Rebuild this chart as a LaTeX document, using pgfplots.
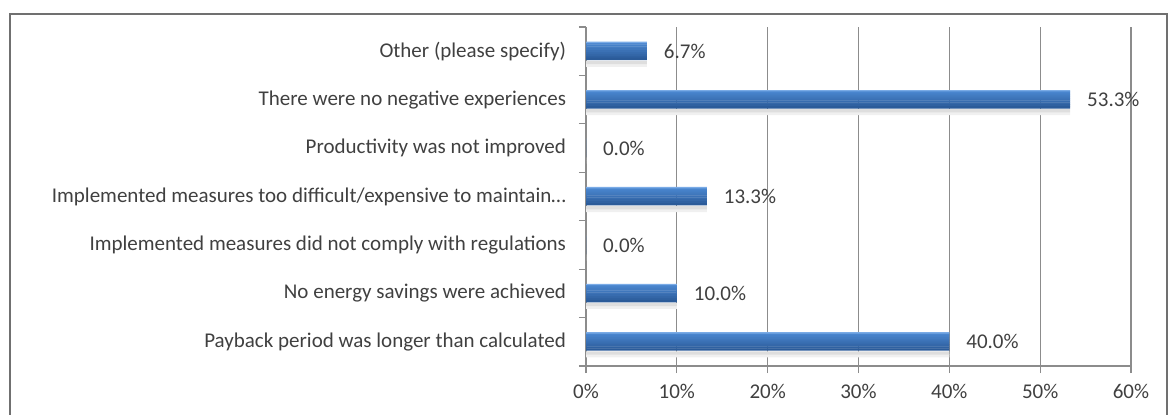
\documentclass[border=0pt]{standalone}
\usepackage{fontspec}
\setmainfont{Carlito}
\usepackage{pgfplots}
\usepackage{pgfplotstable}
\pgfplotsset{compat=1.18}
\definecolor{txt}{HTML}{404040}
\definecolor{gridc}{HTML}{8C8C8C}
\definecolor{bartop}{HTML}{4A86CF}
\definecolor{barbot}{HTML}{2B5B99}
\definecolor{barhi}{HTML}{7AABE6}
\pgfplotstableread{
val pos
40.0 0
10.0 1
0.0 2
13.3 3
0.0 4
53.3 5
6.7 6
}\datatable
\begin{document}
\begin{tikzpicture}[x=0.5pt,y=0.5pt]
\path[use as bounding box] (0,0) rectangle (1172,414);
\draw[gridc!80!black, line width=1pt] (10,-10) -- (10,400) -- (1167,400) -- (1167,-10);
\begin{axis}[
  at={(293pt,24pt)}, anchor=south west,
  scale only axis, width=272.5pt, height=169.5pt,
  xmin=0, xmax=60, ymin=-0.5, ymax=6.5,
  xtick={0,10,...,60},
  xticklabel={\pgfmathprintnumber{\tick}\%},
  ytick={0,...,6},
  yticklabels={Payback period was longer than calculated,
    No energy savings were achieved,
    Implemented measures did not comply with regulations,
    Implemented measures too difficult/expensive to maintain\ldots,
    Productivity was not improved,
    There were no negative experiences,
    Other (please specify)},
  minor ytick={-0.5,0.5,...,6.5},
  tick align=outside,
  major tick length=3.5pt,
  minor tick length=3.5pt,
  major y tick style={draw=none},
  axis x line*=bottom, axis y line*=left,
  axis line style={gridc, line width=0.6pt},
  tick style={gridc, line width=0.6pt},
  xmajorgrids, major grid style={gridc, line width=0.6pt},
  every tick label/.append style={font=\fontsize{10.5}{12}\selectfont, text=txt},
  /pgf/number format/assume math mode=true,
  xticklabel style={yshift=-2pt},
  yticklabel style={xshift=-3pt},
  clip=false,
  xbar, bar width=1.1pt,
]
% shadow
\addplot[draw=none, fill=black!6, bar width=1.6pt, bar shift=-7pt] table[x=val,y=pos] {\datatable};
\addplot[draw=none, fill=black!13, bar width=1.6pt, bar shift=-5.6pt] table[x=val,y=pos] {\datatable};
% gradient bands, top to bottom
\addplot[draw=none, fill=bartop!100!barbot, bar shift=3.8pt] table[x=val,y=pos] {\datatable};
\addplot[draw=none, fill=bartop!88!barbot, bar shift=2.85pt] table[x=val,y=pos] {\datatable};
\addplot[draw=none, fill=bartop!76!barbot, bar shift=1.9pt] table[x=val,y=pos] {\datatable};
\addplot[draw=none, fill=bartop!64!barbot, bar shift=0.95pt] table[x=val,y=pos] {\datatable};
\addplot[draw=none, fill=bartop!52!barbot, bar shift=0pt] table[x=val,y=pos] {\datatable};
\addplot[draw=none, fill=bartop!40!barbot, bar shift=-0.95pt] table[x=val,y=pos] {\datatable};
\addplot[draw=none, fill=bartop!28!barbot, bar shift=-1.9pt] table[x=val,y=pos] {\datatable};
\addplot[draw=none, fill=bartop!14!barbot, bar shift=-2.85pt] table[x=val,y=pos] {\datatable};
\addplot[draw=none, fill=barbot, bar shift=-3.85pt, bar width=1.2pt] table[x=val,y=pos] {\datatable};
\addplot[draw=none, fill=barhi, bar width=0.7pt, bar shift=4.45pt,
  point meta=x,
  nodes near coords={\pgfmathprintnumber[fixed,zerofill,precision=1]{\pgfplotspointmeta}\%},
  every node near coord/.append style={anchor=west, xshift=5pt, yshift=-4.45pt, font=\fontsize{10.5}{12}\selectfont, text=txt},
] table[x=val,y=pos] {\datatable};
\end{axis}
\end{tikzpicture}
\end{document}
